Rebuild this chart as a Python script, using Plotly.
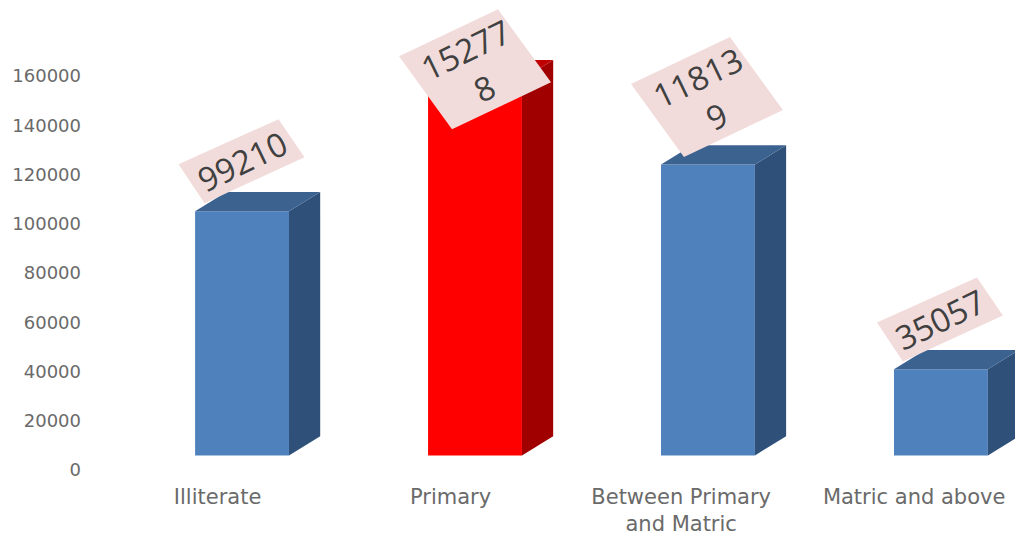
import plotly.graph_objects as go

categories = ["Illiterate", "Primary", "Between Primary<br>and Matric", "Matric and above"]
values = [99210, 152778, 118139, 35057]
value_labels = ["99210", "15277<br>8", "11813<br>9", "35057"]
y_ticks = [0, 20000, 40000, 60000, 80000, 100000, 120000, 140000, 160000]
front_colors = ["#4f81bd", "#ff0000", "#4f81bd", "#4f81bd"]
side_colors = ["#2f5179", "#a00000", "#2f5179", "#2f5179"]
top_colors = ["#3c6290", "#c00000", "#3c6290", "#3c6290"]
tick_offsets = [-0.105, -0.105, -0.115, -0.115]

BASE = 5900          # the pseudo-3D floor sits above the zero tick
BAR_W = 0.403
DX = 0.134           # depth of the box in category units
DY = 7800            # depth of the box in value units
PX_X = 1 / 233       # category units per pixel
PX_Y = 406.1         # value units per pixel

# slanted note behind each value label: corners in pixels around its centre
tall_note = [(-76, 13), (23, 60), (76, -13), (-23, -60)]
short_note = [(-63, -3), (37, 42), (63, 4), (-37, -42)]
note_shapes = [short_note, tall_note, tall_note, short_note]
note_shift = [(-0.5, 50), (0, 10), (-1, 67.5), (-1, 49.6)]

fig = go.Figure()
fig.add_trace(go.Bar(x=list(range(4)), y=values, base=BASE, width=BAR_W,
                     marker=dict(color=front_colors, line_width=0), hoverinfo="skip"))
for i, v in enumerate(values):
    l, r, t = i - BAR_W / 2, i + BAR_W / 2, v + BASE
    fig.add_trace(go.Scatter(x=[r, r + DX, r + DX, r, r], y=[BASE, BASE + DY, t + DY, t, BASE],
                             mode="lines", line_width=0, fill="toself", fillcolor=side_colors[i], hoverinfo="skip"))
    fig.add_trace(go.Scatter(x=[l, l + DX, r + DX, r, l], y=[t, t + DY, t + DY, t, t],
                             mode="lines", line_width=0, fill="toself", fillcolor=top_colors[i], hoverinfo="skip"))
for i, v in enumerate(values):
    t = v + BASE
    sx, sy = note_shift[i]
    corners = note_shapes[i] + note_shapes[i][:1]
    fig.add_trace(go.Scatter(x=[i + (sx + c[0]) * PX_X for c in corners],
                             y=[t + (sy + c[1]) * PX_Y for c in corners],
                             mode="lines", line_width=0, fill="toself", fillcolor="#f2dcdb", hoverinfo="skip"))
    fig.add_annotation(x=i, y=t, xref="x", yref="y", text=value_labels[i], showarrow=False,
                       textangle=-25.8, xshift=sx, yshift=sy, align="center",
                       font=dict(family="Open Sans", size=33, color="#404040"))

fig.update_layout(
    width=1015, height=535, showlegend=False, paper_bgcolor="white", plot_bgcolor="white",
    margin=dict(l=82, r=0, t=0, b=51, autoexpand=False),
    xaxis=dict(range=[-0.687, 3.318], tickmode="array",
               tickvals=[i + o for i, o in enumerate(tick_offsets)],
               ticktext=categories, showgrid=False, zeroline=False, showline=False, ticks="",
               tickangle=0, automargin=False, ticklabelstandoff=-2,
               tickfont=dict(family="DejaVu Sans", size=21, color="#6a6a6a")),
    yaxis=dict(range=[-5686, 190863], tickmode="array", tickvals=y_ticks, ticktext=[str(t) for t in y_ticks],
               showgrid=False, zeroline=False, showline=False, ticks="", automargin=False,
               tickfont=dict(family="DejaVu Sans", size=18, color="#6a6a6a")),
)
fig.write_html("out.html", config={"displayModeBar": False},
               post_script="document.body.style.margin='0';document.body.style.overflow='hidden';")
